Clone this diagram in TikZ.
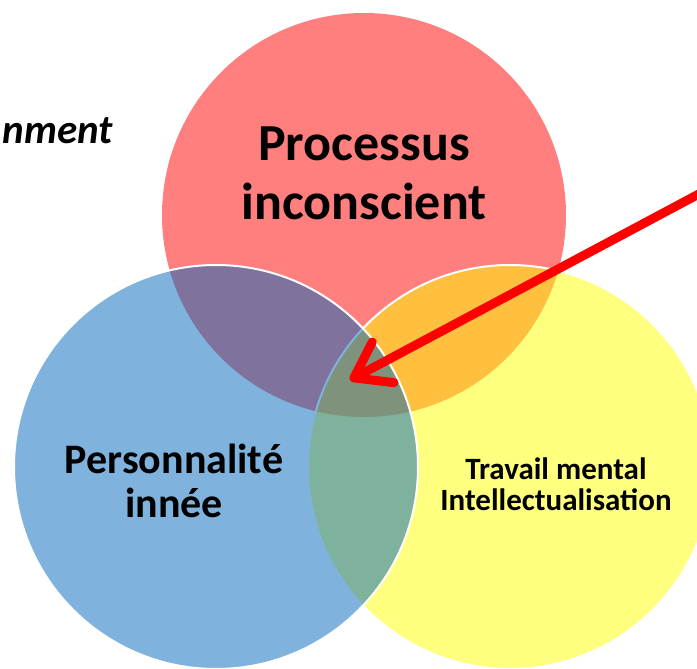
\documentclass[tikz,border=0pt]{standalone}
\usepackage{fontspec}
\setmainfont{Carlito}
\usetikzlibrary{arrows.meta}
\definecolor{vred}{RGB}{255,0,0}
\definecolor{vblue}{RGB}{0,102,186}
\definecolor{vyellow}{RGB}{255,255,0}
\definecolor{arrowred}{RGB}{255,0,0}
\tikzset{
  venn/.style={circle, minimum size=404pt, inner sep=0pt, fill opacity=0.5},
  vennborder/.style={draw=white, line width=2pt},
  lbl/.style={align=center, font=\bfseries, text=black, inner sep=0pt},
  bigarrow/.style={draw=arrowred, line width=9pt, line cap=round,
    -{Straight Barb[length=33pt,width=46pt,round]}}
}
\begin{document}
\begin{tikzpicture}[x=1pt,y=-1pt]
\useasboundingbox (0,0) rectangle (697,669);
\clip (0,0) rectangle (697,669);
\fill[white] (0,0) rectangle (697,669);
\node[venn, fill=vred] (cred) at (364,215) {};
\node[venn, fill=vyellow, vennborder] (cyellow) at (510,467) {};
\node[venn, fill=vblue, vennborder] (cblue) at (216,467) {};
\node[lbl, font=\bfseries\fontsize{52}{59}\selectfont] (tproc) at (364,173) {Processus\\inconscient};
\node[lbl, font=\bfseries\fontsize{42}{44}\selectfont] (tpers) at (174,481) {Personnalité\\innée};
\node[lbl, font=\bfseries\fontsize{31}{31}\selectfont] (ttrav) at (556,484) {Travail mental\\Intellectualisation};
\node[lbl, font=\bfseries\itshape\fontsize{41}{46}\selectfont, anchor=base east] (tnm) at (113,143) {nment};
\coordinate (arrowstart) at (712,187);
\coordinate (arrowtip) at (350,380);
\draw[bigarrow] (arrowstart) -- (arrowtip);
\end{tikzpicture}
\end{document}
